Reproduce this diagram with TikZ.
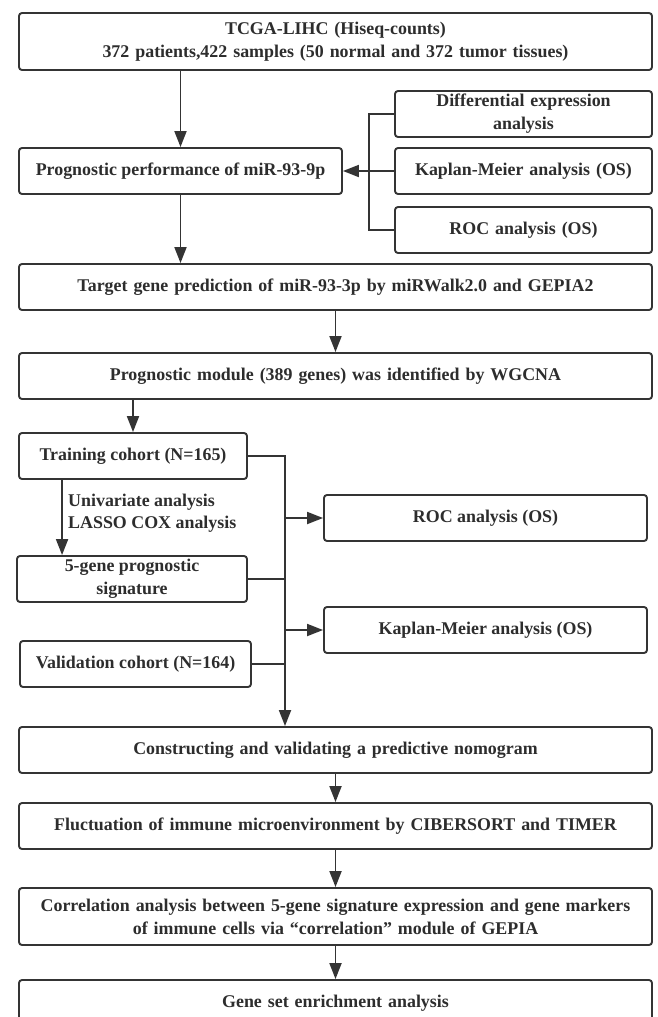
\documentclass[tikz,border=0pt]{standalone}
\usepackage{fontspec}
\setmainfont{Liberation Serif}
\usepackage{tikz}
\usetikzlibrary{arrows.meta}
\definecolor{boxedge}{RGB}{ 52, 52, 52}
\definecolor{textcol}{RGB}{ 45, 45, 45}
\definecolor{linecol}{RGB}{ 52, 52, 52}

\begin{document}
\begin{tikzpicture}[
  % one unit = one pixel of the 657 x 1017 layout, y runs downwards
  x=1pt,y=-1pt,
  >={Triangle[length=16pt,width=12pt]},
  line join=miter,
  stepbox/.style={draw=boxedge,line width=1.9pt,rounded corners=3pt,fill=white,
    text=textcol,font=\bfseries\fontsize{17.9}{23}\selectfont,align=center,
    inner sep=0pt,minimum height=46pt},
  widebox/.style={stepbox,minimum width=633pt,text width=620pt},
  sidebox/.style={stepbox,minimum width=257pt,text width=250pt},
  lbl/.style={text=textcol,font=\bfseries\fontsize{17.9}{22}\selectfont,
    align=left,inner sep=0pt},
  conn/.style={draw=linecol,line width=1.9pt},
  arr/.style={conn,->}
]
\useasboundingbox (0,0) rectangle (657,1017);

% ---- miR-93 part ---------------------------------------------------------
\node[widebox,minimum height=57pt] (src) at (335.5,41.5)
  {TCGA-LIHC (Hiseq-counts)\\372 patients,422 samples (50 normal and 372 tumor tissues)};
\node[stepbox,minimum width=323pt] (perf) at (180.5,171) {Prognostic performance of miR-93-9p};
\node[sidebox] (diffexp) at (523.5,114) {Differential expression\\analysis};
\node[sidebox] (kmmir)   at (523.5,171) {Kaplan-Meier analysis (OS)};
\node[sidebox] (rocmir)  at (523.5,230) {ROC analysis (OS)};
\node[widebox] (target) at (335.5,287)
  {Target gene prediction of miR-93-3p by miRWalk2.0 and GEPIA2};
\node[widebox] (module) at (335.5,376)
  {Prognostic module (389 genes) was identified by WGCNA};

% ---- signature part ------------------------------------------------------
\node[stepbox,minimum width=228pt] (train) at (133,456) {Training cohort (N=165)};
\node[stepbox,minimum width=230pt] (sig)   at (132,579) {5-gene prognostic\\signature};
\node[stepbox,minimum width=231pt] (valid) at (135.5,664) {Validation cohort (N=164)};
\node[lbl,anchor=west] (lasso) at (68,513) {Univariate analysis\\LASSO COX analysis};
\node[stepbox,minimum width=323pt] (rocsig) at (485.5,518) {ROC analysis (OS)};
\node[stepbox,minimum width=323pt] (kmsig)  at (485.5,630) {Kaplan-Meier analysis (OS)};

% ---- downstream part -----------------------------------------------------
\node[widebox] (nomo)  at (335.5,750) {Constructing and validating a predictive nomogram};
\node[widebox] (fluct) at (335.5,826)
  {Fluctuation of immune microenvironment by CIBERSORT and TIMER};
\node[widebox,minimum height=57pt] (corr) at (335.5,916.5)
  {Correlation analysis between 5-gene signature expression and gene markers\\
   of immune cells via ``correlation'' module of GEPIA};
\node[widebox] (gsea) at (335.5,1003) {Gene set enrichment analysis};

% ---- connectors ----------------------------------------------------------
\coordinate (brk) at (369,114);
\coordinate (bus) at (285,456);
\draw[conn] (diffexp.west) -- (brk) |- (rocmir.west);
\draw[arr] (kmmir.west) -- (perf.east);
\draw[arr] (perf.north |- src.south) -- (perf.north);
\draw[arr] (perf.south) -- (perf.south |- target.north);
\draw[arr] (target.south) -- (module.north);
\draw[arr] (train.north |- module.south) -- (train.north);
\draw[arr] ([xshift=44pt]train.south west) -- ([xshift=44pt]train.south west |- sig.north);
\draw[arr] (train.east) -- (bus) -- (bus |- nomo.north);
\draw[conn] (sig.east) -- (sig.east -| bus);
\draw[conn] (valid.east) -- (valid.east -| bus);
\draw[arr] (rocsig.west -| bus) -- (rocsig.west);
\draw[arr] (kmsig.west -| bus) -- (kmsig.west);
\draw[arr] (nomo.south) -- (fluct.north);
\draw[arr] (fluct.south) -- (corr.north);
\draw[arr] (corr.south) -- (gsea.north);

\end{tikzpicture}
\end{document}
